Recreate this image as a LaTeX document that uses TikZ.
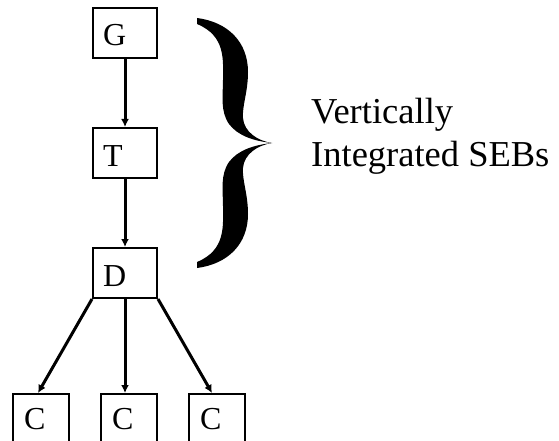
\documentclass[tikz,border=0pt]{standalone}
\usepackage{fontspec}
\setmainfont{Liberation Serif}
\usetikzlibrary{arrows.meta}

\tikzset{
  unitbox/.style={draw, line width=2pt, anchor=north west,
    font=\fontsize{32}{38}\selectfont,
    text height=26pt, text depth=0pt, inner ysep=12pt,
    inner xsep=10pt, text width=44pt, align=left},
  leafbox/.style={unitbox, text depth=25pt, inner ysep=9pt,
    inner xsep=11pt, text width=34pt},
  link/.style={line width=3pt, -{Latex[length=8pt,width=8pt]}},
  caption/.style={font=\fontsize{36.5}{43}\selectfont, align=left,
    anchor=north west, inner sep=0pt},
}

\begin{document}
\begin{tikzpicture}[x=1pt, y=-1pt]
  \useasboundingbox (0,0) rectangle (559,441);
  \clip (0,0) rectangle (559,441);

  % chain of units
  \node[unitbox] (g) at (92,7)   {G};
  \node[unitbox] (t) at (92,127) {T};
  \node[unitbox] (d) at (92,247) {D};

  % leaf units along the bottom edge
  \node[leafbox] (c1) at (12,393)  {C};
  \node[leafbox] (c2) at (100,393) {C};
  \node[leafbox] (c3) at (188,393) {C};

  % connectors
  \draw[link] (g) -- (t);
  \draw[link] (t) -- (d);
  \draw[link] (d.south west) -- ([xshift=-3pt]c1.north);
  \draw[link] (d.south) -- (d.south |- c2.north);
  \draw[link] (d.south east) -- ([xshift=-5pt]c3.north);

  % curly brace grouping G, T and D
  \fill (197,18)
    .. controls (228,22) and (248,42) .. (248,72)
    .. controls (248,92) and (242,106) .. (243,118)
    .. controls (244,132) and (258,141) .. (272,143)
    .. controls (254,141) and (238,136) .. (229,124)
    .. controls (220,111) and (223,95) .. (223,80)
    .. controls (223,60) and (226,36) .. (197,24) -- cycle;
  \fill (197,268)
    .. controls (228,264) and (248,244) .. (248,214)
    .. controls (248,194) and (242,180) .. (243,168)
    .. controls (244,154) and (258,145) .. (272,143)
    .. controls (254,145) and (238,150) .. (229,162)
    .. controls (220,175) and (223,191) .. (223,206)
    .. controls (223,226) and (226,250) .. (197,262) -- cycle;

  \node[caption] (lbl) at (311,97.5) {Vertically\\Integrated SEBs};
\end{tikzpicture}
\end{document}
